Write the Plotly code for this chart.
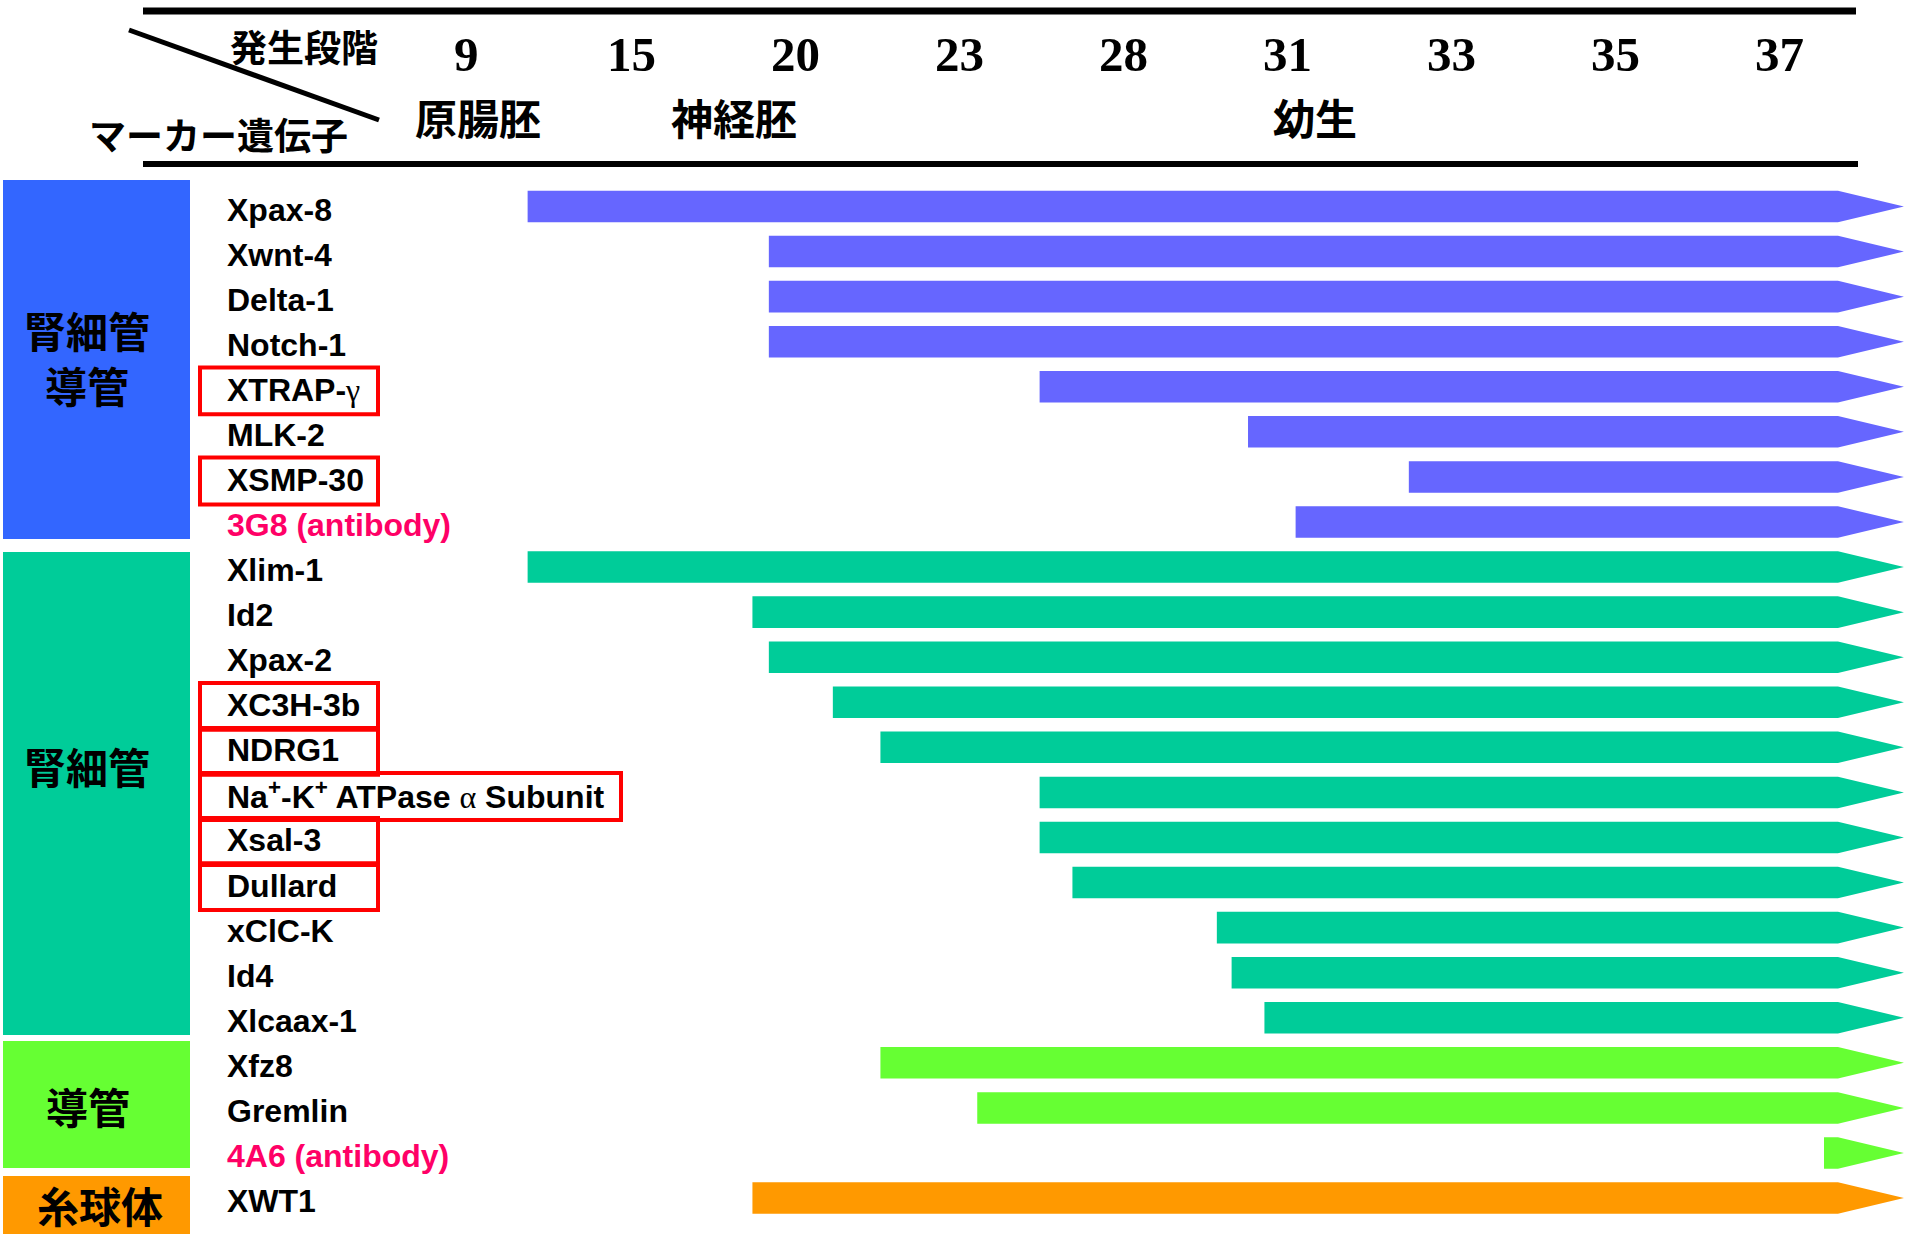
import plotly.graph_objects as go

# ---- data -------------------------------------------------------------
stages = ["9", "15", "20", "23", "28", "31", "33", "35", "37"]
stage_groups = ["原腸胚", "神経胚", "幼生"]
stage_group_pos = [0.07, 1.63, 5.17]          # position on the stage axis

genes = [
    "Xpax-8", "Xwnt-4", "Delta-1", "Notch-1", "XTRAP-γ", "MLK-2", "XSMP-30",
    "3G8 (antibody)",
    "Xlim-1", "Id2", "Xpax-2", "XC3H-3b", "NDRG1",
    "Na⁺-K⁺ ATPase α Subunit", "Xsal-3", "Dullard", "xClC-K", "Id4", "Xlcaax-1",
    "Xfz8", "Gremlin", "4A6 (antibody)",
    "XWT1",
]
# onset of expression, in stage-axis units (0 = stage 9 ... 8 = stage 37)
onset = [
    0.37, 1.84, 1.84, 1.84, 3.49, 4.76, 5.74, 5.05,
    0.37, 1.74, 1.84, 2.23, 2.52, 3.49, 3.49, 3.69, 4.57, 4.66, 4.86,
    2.52, 3.11, 8.27,
    1.74,
]
tissue = (["腎細管導管"] * 8 + ["腎細管"] * 11 + ["導管"] * 3 + ["糸球体"])
antibody = ["3G8 (antibody)", "4A6 (antibody)"]
highlighted = ["XTRAP-γ", "XSMP-30", "XC3H-3b", "NDRG1",
               "Na⁺-K⁺ ATPase α Subunit", "Xsal-3", "Dullard"]

# ---- styling ----------------------------------------------------------
W, H = 1905, 1234
X0, DX = 466.9, 164.1          # pixel position of stage 0 and spacing
Y0, DY = 206.5, 45.07          # pixel centre of row 0 and row spacing
NECK, TIP = 8.355, 8.757       # arrow head start / tip on the stage axis
HALF = 0.35                    # half bar thickness in row units

bar_color = {"腎細管導管": "#6666FF", "腎細管": "#00CC99",
             "導管": "#66FF33", "糸球体": "#FF9900"}
box_color = {"腎細管導管": "#3366FF", "腎細管": "#00CC99",
             "導管": "#66FF33", "糸球体": "#FF9900"}
# tissue blocks: pixel top / bottom, label with pixel centre
blocks = [
    ("腎細管導管", 180, 539, "腎細管<br>導管", 87, 357),
    ("腎細管", 552, 1035, "腎細管", 87, 765),
    ("導管", 1041, 1168, "導管", 88, 1105),
    ("糸球体", 1176, 1240, "糸球体", 100, 1204),
]

JP = "Noto Sans CJK JP"
SANS = "Liberation Sans, Arial"
SERIF = "Liberation Serif, Times New Roman"


def px(x):
    return x / W


def py(y):
    return 1 - y / H


def label_html(name):
    txt = name.replace("⁺", "<sup>+</sup>")
    for g in ("α", "γ"):
        txt = txt.replace(g, f"<span style='font-family:{SERIF};font-weight:normal'>{g}</span>")
    return f"<b>{txt}</b>"


fig = go.Figure()

# expression arrows, one filled trace per tissue
for t in bar_color:
    xs, ys = [], []
    for r, (s, tt) in enumerate(zip(onset, tissue)):
        if tt != t:
            continue
        xs += [s, NECK, TIP, NECK, s, s, None]
        ys += [r - HALF, r - HALF, r, r + HALF, r + HALF, r - HALF, None]
    fig.add_trace(go.Scatter(x=xs, y=ys, mode="lines", fill="toself",
                             fillcolor=bar_color[t], line=dict(width=0),
                             hoverinfo="skip", showlegend=False))

shapes = []
annotations = []

# tissue blocks on the left
for t, top, bot, txt, cx, cy in blocks:
    shapes.append(dict(type="rect", xref="paper", yref="paper",
                       x0=px(3), x1=px(190), y0=py(bot), y1=py(top),
                       fillcolor=box_color[t], line=dict(width=0), layer="below"))
    annotations.append(dict(text=f"<b>{txt}</b>", xref="paper", yref="paper",
                            x=px(cx), y=py(cy), xanchor="center", yanchor="middle",
                            showarrow=False, font=dict(family=JP, size=42, color="black")))

# gene names
for r, g in enumerate(genes):
    annotations.append(dict(text=label_html(g), xref="paper", yref="y",
                            x=px(225), y=r, xanchor="left", yanchor="middle", yshift=-3,
                            showarrow=False,
                            font=dict(family=SANS, size=32,
                                      color="#FF0066" if g in antibody else "black")))

# red frames around highlighted genes
for g in highlighted:
    r = genes.index(g)
    right = 621 if "ATPase" in g else 378
    shapes.append(dict(type="rect", xref="paper", yref="y",
                       x0=px(200), x1=px(right), y0=r - 0.43, y1=r + 0.61,
                       line=dict(color="#FF0000", width=4), fillcolor="rgba(0,0,0,0)"))

# header rules and the corner diagonal
shapes.append(dict(type="line", xref="paper", yref="paper",
                   x0=px(143), x1=px(1856), y0=py(11), y1=py(11),
                   line=dict(color="black", width=7)))
shapes.append(dict(type="line", xref="paper", yref="paper",
                   x0=px(143), x1=px(1858), y0=py(164), y1=py(164),
                   line=dict(color="black", width=6)))
shapes.append(dict(type="line", xref="paper", yref="paper",
                   x0=px(129), x1=px(379), y0=py(30), y1=py(120),
                   line=dict(color="black", width=5)))

annotations.append(dict(text="<b>発生段階</b>", xref="paper", yref="paper",
                        x=px(304), y=py(46), xanchor="center", yanchor="middle",
                        showarrow=False, font=dict(family=JP, size=37, color="black")))
annotations.append(dict(text="<b>マーカー遺伝子</b>", xref="paper", yref="paper",
                        x=px(218), y=py(134), xanchor="center", yanchor="middle",
                        showarrow=False, font=dict(family=JP, size=37, color="black")))

# stage numbers
for i, s in enumerate(stages):
    annotations.append(dict(text=f"<b>{s}</b>", xref="x", yref="paper",
                            x=i, y=py(54), xanchor="center", yanchor="middle",
                            showarrow=False, font=dict(family=SERIF, size=49, color="black")))
# developmental periods
for name, pos in zip(stage_groups, stage_group_pos):
    annotations.append(dict(text=f"<b>{name}</b>", xref="x", yref="paper",
                            x=pos, y=py(117), xanchor="center", yanchor="middle",
                            showarrow=False, font=dict(family=JP, size=42, color="black")))

fig.update_layout(
    width=W, height=H, margin=dict(l=0, r=0, t=0, b=0),
    paper_bgcolor="white", plot_bgcolor="white",
    xaxis=dict(range=[-X0 / DX, (W - X0) / DX], visible=False, fixedrange=True),
    yaxis=dict(range=[(H - Y0) / DY, -Y0 / DY], visible=False, fixedrange=True),
    shapes=shapes, annotations=annotations, showlegend=False,
)

fig.write_html("out.html", config={"displayModeBar": False})
